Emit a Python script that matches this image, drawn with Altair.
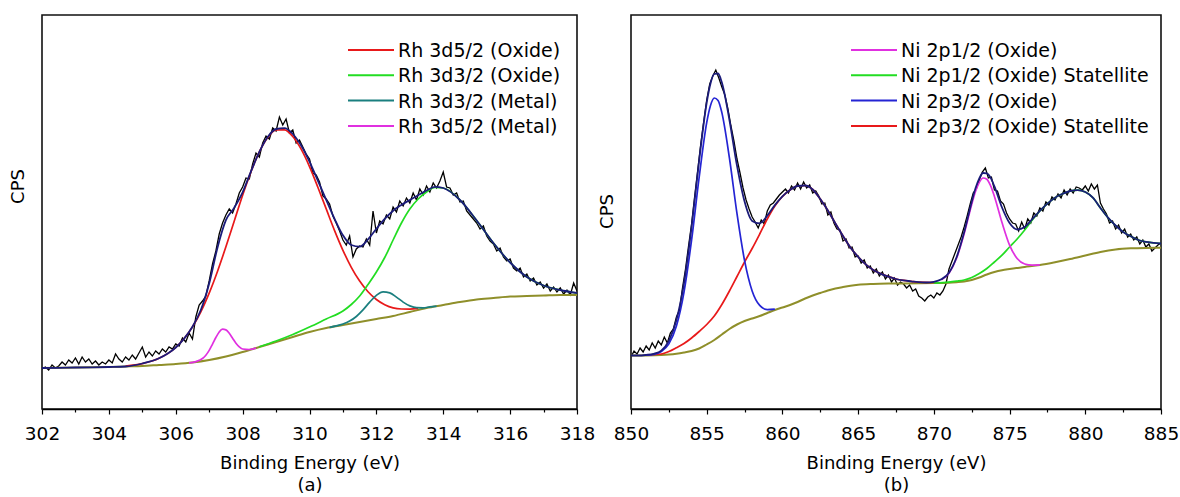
import altair as alt
import pandas as pd

FONT = "DejaVu Sans"

# ---------------- Panel (a): Rh 3d ----------------
rh_x_start, rh_x_step = 302.0, 0.1
rh_counts = [40, 42, 39, 44, 41, 43, 47, 44, 49, 46,
             51, 45, 52, 47, 50, 45, 48, 44, 47, 45,
             49, 46, 55, 50, 47, 52, 49, 54, 50, 56,
             62, 52, 57, 53, 58, 55, 60, 57, 62, 60,
             65, 63, 71, 67, 76, 70, 92, 104, 108, 113,
             128, 145, 158, 175, 186, 194, 200, 196, 205, 216,
             222, 231, 230, 245, 256, 252, 266, 273, 270, 281,
             278, 292, 284, 290, 276, 279, 266, 269, 262, 255,
             250, 236, 234, 227, 213, 210, 205, 193, 186, 178,
             169, 164, 173, 152, 160, 163, 162, 170, 164, 198,
             176, 188, 185, 194, 190, 202, 197, 208, 203, 211,
             206, 216, 209, 220, 214, 223, 217, 226, 221, 228,
             237, 222, 221, 214, 216, 207, 208, 198, 194, 190,
             186, 180, 183, 173, 168, 165, 158, 161, 152, 148,
             150, 141, 138, 141, 132, 135, 128, 131, 124, 127,
             121, 125, 118, 122, 117, 121, 115, 119, 114, 126,
             118]

rh_base_E = [302, 302.5, 303, 303.5, 304, 304.5, 305, 305.5, 306, 306.5, 307, 307.5, 308,
             308.5, 309, 309.5, 310, 310.5, 311, 311.5, 312, 312.5, 313, 313.5, 314, 314.5,
             315, 315.5, 316, 316.5, 317, 317.5, 318]
rh_base_v = [41, 41.2, 41.5, 41.7, 42, 42.5, 43, 44, 45, 46.5, 49, 52.5, 57,
             62, 67, 72, 77, 81, 84, 87, 90, 93, 97, 101, 104, 107,
             109.5, 111, 112.5, 113, 113.5, 114, 114]

rh_ox52_E = [304.5, 305, 305.5, 306, 306.5, 306.75, 307, 307.25, 307.5, 307.75, 308, 308.25,
             308.5, 308.75, 309, 309.25, 309.5, 309.75, 310, 310.25, 310.5, 310.75, 311,
             311.25, 311.5, 311.75, 312, 312.25, 312.5, 312.75, 313, 313.25]
rh_ox52_v = [43, 45.4, 50.7, 61.5, 82.1, 97.2, 115.9, 137.8, 162.2, 188, 213.7, 237.3,
             257.1, 271.4, 279, 279.2, 272.5, 259.8, 242.4, 221.8, 200.1, 178.4, 158.7,
             141.7, 127.9, 117.2, 109.5, 104.3, 101.1, 100, 99.9, 100.7]

rh_ox32_E = [308.5, 309, 309.5, 310, 310.5, 311, 311.25, 311.5, 311.75, 312, 312.25, 312.5,
             312.75, 313, 313.25, 313.5, 313.75, 314, 314.5, 315, 315.5, 316, 316.5, 317,
             317.5, 318]
rh_ox32_v = [62.3, 68, 74.5, 82, 90, 98, 104.5, 113, 124.5, 137, 151.5, 169,
             186, 200, 210, 217, 221.5, 221, 209, 188.5, 166, 146.5, 132, 123.5,
             119, 116]

rh_m32_E = [310.6, 310.8, 311, 311.2, 311.4, 311.6, 311.8, 312, 312.2, 312.4, 312.6, 312.8,
            313, 313.2, 313.4, 313.6, 313.8]
rh_m32_v = [81.7, 83.1, 85, 87.9, 92.5, 99.1, 106.9, 113.7, 117.2, 116.1, 111.9, 106.9,
            103.1, 101.3, 101.2, 102.1, 102.9]

rh_m52_E = [306.4, 306.6, 306.8, 306.9, 307, 307.1, 307.2, 307.3, 307.4, 307.5, 307.6, 307.7,
            307.8, 307.9, 308, 308.2, 308.4]
rh_m52_v = [46.2, 47.4, 50.5, 53.8, 58.6, 64.9, 71.5, 77, 79.8, 79.1, 75.7, 70.7,
            65.8, 62.2, 60, 59.5, 61]

rh_env_E = [302, 302.5, 303, 303.5, 304, 304.5, 305, 305.5, 305.75, 306, 306.25, 306.5,
            306.75, 307, 307.25, 307.5, 307.75, 308, 308.25, 308.5, 308.75, 309, 309.25,
            309.5, 309.75, 310, 310.25, 310.5, 310.75, 311, 311.25, 311.5, 311.75, 312,
            312.25, 312.5, 312.75, 313, 313.25, 313.5, 313.75, 314, 314.5, 315, 315.5,
            316, 316.5, 317, 317.5, 318]
rh_env_v = [41, 41.2, 41.5, 41.7, 42, 42.5, 45.5, 50.7, 55.2, 61.5, 70.4, 82.2,
            99, 125.5, 161.6, 188.8, 201.4, 216.7, 237.6, 257.1, 272, 280, 280.9,
            275, 263.5, 247.4, 228.3, 209.1, 190.2, 173.7, 164, 162.4, 169.6, 180.2,
            190.1, 198.3, 204.1, 209, 213.8, 218.5, 222.2, 221, 209, 188.5, 166,
            146.5, 132, 123.5, 119, 116]

rh_legend = ["Rh 3d5/2 (Oxide)", "Rh 3d3/2 (Oxide)", "Rh 3d3/2 (Metal)", "Rh 3d5/2 (Metal)"]
rh_ticks = list(range(302, 319))

# ---------------- Panel (b): Ni 2p ----------------
ni_x_start, ni_x_step = 850.0, 0.2
ni_counts = [52, 58, 55, 61, 57, 63, 59, 66, 61, 68,
             64, 72, 66, 76, 80, 92, 99, 121, 140, 163,
             185, 212, 238, 264, 287, 309, 325, 333, 339, 331,
             322, 314, 300, 283, 268, 250, 236, 221, 209, 200,
             192, 187, 181, 189, 185, 198, 204, 206, 210, 214,
             217, 220, 216, 223, 219, 226, 220, 227, 221, 224,
             216, 218, 213, 205, 206, 194, 197, 186, 180, 179,
             168, 170, 161, 162, 152, 153, 146, 149, 141, 143,
             136, 140, 133, 137, 130, 134, 127, 131, 124, 127,
             125, 121, 124, 118, 120, 113, 111, 108, 112, 114,
             111, 116, 114, 118, 125, 140, 148, 156, 164, 172,
             182, 193, 205, 216, 220, 229, 237, 241, 231, 232,
             219, 218, 208, 205, 196, 190, 186, 185, 178, 187,
             180, 190, 186, 196, 193, 201, 198, 207, 204, 212,
             209, 215, 211, 219, 214, 220, 216, 222, 221, 219,
             223, 218, 225, 220, 224, 206, 200, 195, 186, 188,
             180, 184, 176, 180, 172, 175, 169, 172, 165, 169,
             162, 165, 158, 161, 164, 166]

ni_base_E = [850, 851, 852, 852.5, 853, 853.5, 854, 854.5, 855, 855.5, 856, 856.5, 857,
             857.5, 858, 858.5, 859, 859.5, 860, 860.5, 861, 861.5, 862, 862.5, 863, 863.5,
             864, 864.5, 865, 866, 867, 868, 869, 870, 871, 871.5, 872, 872.5, 873, 873.5,
             874, 874.5, 875, 876, 877, 878, 879, 880, 881, 882, 883, 884, 885]
ni_base_v = [53.5, 53.6, 54, 54.5, 55.3, 56.5, 58, 60.5, 64.5, 69, 74.5, 80, 84.5,
             88, 90.5, 93, 96, 99, 101.5, 104, 107, 110.5, 113.5, 116, 118.5, 120.5,
             122, 123.3, 124.2, 125, 125.4, 125.6, 125.8, 126, 126.3, 126.8, 127.5, 129,
             131.5, 134.5, 137, 138.8, 140, 142, 144, 146.8, 150, 153.5, 157, 159.5,
             160.7, 161.1, 161.2]

ni_p32_E = [851, 851.5, 852, 852.5, 853, 853.5, 854, 854.5, 855, 855.25, 855.5, 855.75,
            856, 856.5, 857, 857.5, 858, 858.5, 859, 859.5]
ni_p32_v = [53.8, 54.7, 57.4, 65.1, 82.9, 116.9, 168.8, 231.5, 286.4, 303.5, 311, 308.5,
            296.4, 251, 195.3, 148.4, 118.1, 103.6, 99.4, 99.9]

ni_p32s_E = [851, 852, 852.5, 853, 853.5, 854, 854.5, 855, 855.5, 856, 856.5, 857, 857.5,
             858, 858.5, 859, 859.5, 860, 860.5, 861, 861.5, 862, 862.5, 863, 863.5, 864,
             864.5, 865, 865.5, 866, 866.5, 867, 867.5, 868, 868.5, 869, 870]
ni_p32s_v = [54, 55, 57.5, 61.3, 65.5, 71, 77.5, 84.5, 93, 104.5, 118, 132.5, 147,
             160.5, 175, 190, 203, 212.5, 219, 223, 223.5, 219.5, 210, 198.5, 185.5, 173,
             161.3, 152.2, 144.6, 139, 135.2, 132.4, 130, 128.6, 127.7, 126.8, 126.5]

ni_p12_E = [870.5, 871, 871.5, 872, 872.5, 872.75, 873, 873.25, 873.5, 873.75, 874, 874.5,
            875, 875.5, 876, 876.5, 877]
ni_p12_v = [129.1, 135.8, 150.7, 175.2, 204.6, 217.5, 226.7, 231, 229.7, 223.1, 212.6, 186.5,
            163.9, 150.5, 145, 143.8, 144.2]

ni_p12s_E = [870, 871, 871.5, 872, 872.5, 873, 873.5, 874, 874.5, 875, 875.5, 876, 876.5,
             877, 877.5, 878, 878.5, 879, 879.5, 880, 880.5, 881, 881.5, 882, 882.5, 883,
             883.5, 884, 884.5, 885]
ni_p12s_v = [126, 126.8, 127.8, 129, 131.5, 135.5, 140.5, 147, 153.8, 162, 170, 179, 189,
             198, 205.4, 211.3, 215.2, 218, 218.8, 217, 211.3, 201, 191.3, 183.5, 177.1, 172.7,
             169, 167.1, 166.2, 165.5]

ni_env_E = [850, 850.5, 851, 851.5, 852, 852.5, 853, 853.5, 854, 854.5, 855, 855.25, 855.5,
            855.75, 856, 856.5, 857, 857.5, 858, 858.5, 859, 859.5, 860, 860.5, 861, 861.5,
            862, 862.5, 863, 863.5, 864, 864.5, 865, 865.5, 866, 866.5, 867, 867.5, 868,
            868.5, 869, 869.5, 870, 870.5, 871, 871.5, 872, 872.5, 872.75, 873, 873.25,
            873.5, 873.75, 874, 874.5, 875, 875.5, 876, 876.5, 877, 877.5, 878, 878.5, 879,
            879.5, 880, 880.5, 881, 881.5, 882, 882.5, 883, 883.5, 884, 884.5, 885]
ni_env_v = [53.5, 53.5, 54.1, 55.2, 58.4, 68.1, 88.9, 125.9, 181.8, 248.5, 306.4, 325.5, 335,
            335.5, 326.4, 289, 243.3, 207.4, 188.1, 185.6, 193.4, 203.9, 212.7, 219, 223, 223.5,
            219.5, 210, 198.5, 185.5, 173, 161.3, 152.2, 144.6, 139, 135.2, 132.4, 130, 128.6,
            127.7, 126.8, 126.5, 127.2, 129.7, 136.3, 151.7, 176.7, 207.1, 220.7, 230.7, 236,
            235.7, 231.1, 222.6, 201.5, 185.9, 179.5, 182, 189.8, 198.2, 205.4, 211.3, 215.2, 218,
            218.8, 217, 211.3, 201, 191.3, 183.5, 177.1, 172.7, 169, 167.1, 166.2, 165.5]

ni_legend = ["Ni 2p1/2 (Oxide)", "Ni 2p1/2 (Oxide) Statellite",
             "Ni 2p3/2 (Oxide)", "Ni 2p3/2 (Oxide) Statellite"]
ni_ticks = [850 + 2.5 * i for i in range(15)]

# ---------------- colours ----------------
C_RED, C_GREEN, C_TEAL, C_MAG = "#E8191A", "#22DD22", "#1A7F7F", "#E030E0"
C_NAVY, C_BLUE, C_OLIVE = "#1B1B7A", "#2424D4", "#8F8F2A"

Y_DOMAIN = [0, 394]


def build_panel(x_dom, ticks, major, title_lines, cps_y, width,
                data_E, data_v, curves, legend_rows, leg_x0):
    x_axis = alt.Axis(
        values=ticks, grid=False,
        labelExpr=f"datum.value % {major} === 0 ? datum.label : ''",
        tickSize={"condition": {"test": f"datum.value % {major} === 0", "value": 5}, "value": 3},
        tickColor="black", tickWidth=1.2, domainColor="black", domainWidth=1.5,
        labelFont=FONT, labelFontSize=18.5, labelColor="black", labelPadding=10,
        labelFlush=False, labelOverlap=False,
        title=title_lines, titleFont=FONT, titleFontSize=18, titleFontWeight="normal",
        titleColor="black", titlePadding=12, titleLineHeight=22,
    )
    y_axis = alt.Axis(
        labels=False, ticks=False, domain=False, grid=False,
        title="CPS", titleFont=FONT, titleFontSize=18, titleFontWeight="normal",
        titleColor="black", titleX=-24, titleY=cps_y, titleAlign="center",
        titleBaseline="middle", titleAngle=270,
    )
    xs = alt.Scale(domain=x_dom, nice=False, zero=False)
    ys = alt.Scale(domain=Y_DOMAIN, nice=False, zero=False)

    def line(E, v, color, sw, interp):
        df = pd.DataFrame({"E": E, "v": v})
        return alt.Chart(df).mark_line(color=color, strokeWidth=sw, interpolate=interp,
                                       clip=True).encode(
            x=alt.X("E:Q", scale=xs, axis=x_axis),
            y=alt.Y("v:Q", scale=ys, axis=y_axis),
        )

    layers = [line(data_E, data_v, "black", 1.3, "linear")]
    for E, v, color, sw in curves:
        layers.append(line(E, v, color, sw, "monotone"))

    for i, (label, color) in enumerate(legend_rows):
        yy = 35 + 25.3 * i
        one = pd.DataFrame({"label": [label]})
        layers.append(alt.Chart(one).mark_rule(color=color, strokeWidth=2).encode(
            x=alt.value(leg_x0), x2=alt.value(leg_x0 + 46), y=alt.value(yy)))
        layers.append(alt.Chart(one).mark_text(align="left", baseline="middle", font=FONT,
                                               fontSize=19, color="black").encode(
            x=alt.value(leg_x0 + 50), y=alt.value(yy + 1), text="label:N"))

    return alt.layer(*layers).properties(width=width, height=394)


rh_E = [round(rh_x_start + rh_x_step * i, 2) for i in range(len(rh_counts))]
ni_E = [round(ni_x_start + ni_x_step * i, 2) for i in range(len(ni_counts))]

left = build_panel(
    [302, 318], rh_ticks, 2, ["Binding Energy (eV)", "(a)"], 171, 535,
    rh_E, rh_counts,
    [(rh_base_E, rh_base_v, C_OLIVE, 2.0),
     (rh_ox52_E, rh_ox52_v, C_RED, 1.7),
     (rh_ox32_E, rh_ox32_v, C_GREEN, 1.7),
     (rh_m32_E, rh_m32_v, C_TEAL, 1.7),
     (rh_m52_E, rh_m52_v, C_MAG, 1.7),
     (rh_env_E, rh_env_v, C_NAVY, 1.8)],
    list(zip(rh_legend, [C_RED, C_GREEN, C_TEAL, C_MAG])), 306,
)

right = build_panel(
    [850, 885], ni_ticks, 5, ["Binding Energy (eV)", "(b)"], 196, 530,
    ni_E, ni_counts,
    [(ni_base_E, ni_base_v, C_OLIVE, 2.0),
     (ni_p32s_E, ni_p32s_v, C_RED, 1.7),
     (ni_p12s_E, ni_p12s_v, C_GREEN, 1.7),
     (ni_p12_E, ni_p12_v, C_MAG, 1.7),
     (ni_p32_E, ni_p32_v, C_BLUE, 1.7),
     (ni_env_E, ni_env_v, C_NAVY, 1.8)],
    list(zip(ni_legend, [C_MAG, C_GREEN, C_BLUE, C_RED])), 220,
)

chart = alt.hconcat(left, right, spacing=1).properties(
    padding={"left": 8, "top": 14, "right": 0, "bottom": 0},
    background="white",
).configure(
    font=FONT,
    view=alt.ViewConfig(stroke="#111111", strokeWidth=1.6),
)

chart.save("out.html", embed_options={"renderer": "svg", "actions": False})
